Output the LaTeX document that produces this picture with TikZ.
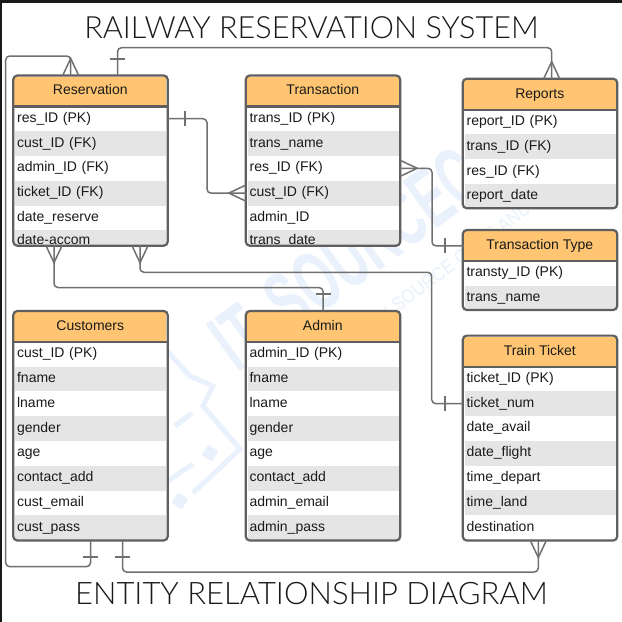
\documentclass[tikz,border=0pt]{standalone}
\usepackage{fontspec}
\setmainfont{Liberation Sans}
\newfontfamily\titlefont[UprightFont=* Light]{Lato}
\usetikzlibrary{positioning,calc}
\definecolor{headcol}{HTML}{FFC572}
\definecolor{stripecol}{HTML}{E5E5E5}
\definecolor{framecol}{HTML}{5F5F5F}
\definecolor{linecol}{HTML}{707070}
\definecolor{markcol}{HTML}{E8F1FC}
\definecolor{textcol}{HTML}{1A1A1A}
\tikzset{
    entityback/.style={rectangle, rounded corners=4pt, fill=white, minimum width=154.4pt, inner sep=0pt, outer sep=0pt, anchor=north west},
    entity/.style={entityback, fill=none, draw=framecol, line width=2.2pt},
    headtext/.style={rectangle, fill=headcol, minimum width=152pt, minimum height=29.8pt, inner sep=0pt, outer sep=0pt, anchor=north west, text=textcol, font=\fontsize{14}{16}\selectfont, text height=10pt, text depth=3pt},
    rowa/.style={rectangle, minimum width=151pt, minimum height=24.8pt, inner xsep=2pt, inner ysep=0pt, outer sep=0pt, anchor=west, text width=147pt, align=left, text=textcol, font=\fontsize{14}{16}\selectfont, text height=10pt, text depth=3pt},
    rowb/.style={rowa, fill=stripecol},
    lastrow/.style={rowb, minimum height=15pt, text height=13pt, text depth=0pt},
    link/.style={draw=linecol, line width=1.5pt, rounded corners=4pt},
    crow/.pic={\draw[draw=linecol, line width=1.5pt] (0,-8) -- (17,0) -- (0,8);},
    onebar/.pic={\draw[draw=linecol, line width=1.5pt] (0,-7.5) -- (0,7.5);},
}
% name, x, y, height, title, rows, cut row
\newcommand{\entity}[7]{
    \node[entityback, minimum height=#4pt] (#1b) at (#2,#3) {};
    \node[headtext] (#1h) at (#2+1,#3+1) {#5};
    \foreach \i/\t in {#6}{
        \ifodd\i
            \node[rowa] (#1\i) at ({#2+1.8},{#3+18.4+24.8*\i}) {\t};
        \else
            \node[rowb] (#1\i) at ({#2+1.8},{#3+18.4+24.8*\i}) {\t};
        \fi
    }
    \def\cutrow{#7}
    \ifx\cutrow\empty\else
        \node[lastrow] (#1c) at ({#2+1.8},{#3+162}) {#7};
    \fi
    \draw[draw=framecol, line width=2.2pt] ($(#1b.north west)+(0,31)$) -- ($(#1b.north east)+(0,31)$);
    \node[entity, minimum height=#4pt] (#1) at (#2,#3) {};
}

\begin{document}
\begin{tikzpicture}[x=1pt, y=-1pt]
    \useasboundingbox (0,0) rectangle (622,622);
    \fill[white] (0,0) rectangle (622,622);
    \fill[black!90] (0,0) rectangle (622,3);
    \fill[black!90] (0,0) rectangle (2,622);

    % watermark
    \node[anchor=base west, rotate=36, text=markcol, font=\fontsize{84}{84}\bfseries\selectfont, inner sep=0pt] (mark) at (237,374) {\scalebox{0.58}[1]{IT\hspace{0.5em}SOURCECODE}};
    \node[anchor=base west, rotate=37, text=markcol, font=\fontsize{19}{19}\selectfont, inner sep=0pt] (marksub) at (359,342) {\scalebox{0.9}[1]{WITH SOURCE CODE AND TU}};
    \begin{scope}[draw=markcol, line width=5pt]
        \draw (167,351) -- (190,376) -- (213,386) -- (203,406) -- (240,449) -- (193,493);
        \draw (192,413) -- (175,426);
        \draw (193,464) -- (168,481);
        \fill[markcol, rotate around={-33:(210,453)}] (204,447) rectangle (216,459);
        \fill[markcol, rotate around={-33:(180,501)}] (174,495) rectangle (186,507);
    \end{scope}

    \node[text=textcol, font=\titlefont\fontsize{30.6}{31}\selectfont, inner sep=0pt] (title) at (311.5,28) {RAILWAY RESERVATION SYSTEM};
    \node[text=textcol, font=\titlefont\fontsize{31}{31}\selectfont, inner sep=0pt] (subtitle) at (311.5,593.5) {ENTITY RELATIONSHIP DIAGRAM};

    \entity{res}{13.3}{75.5}{170.2}{Reservation}{1/res\_ID (PK),2/cust\_ID (FK),3/admin\_ID (FK),4/ticket\_ID (FK),5/date\_reserve}{date-accom}
    \entity{trans}{245.8}{75.5}{170.2}{Transaction}{1/trans\_ID (PK),2/trans\_name,3/res\_ID (FK),4/cust\_ID (FK),5/admin\_ID}{trans\_date}
    \entity{rep}{462.8}{78.7}{129.6}{Reports}{1/report\_ID (PK),2/trans\_ID (FK),3/res\_ID (FK),4/report\_date}{}
    \entity{tty}{462.8}{230}{80}{Transaction Type}{1/transty\_ID (PK),2/trans\_name}{}
    \entity{cus}{13.3}{311}{229.5}{Customers}{1/cust\_ID (PK),2/fname,3/lname,4/gender,5/age,6/contact\_add,7/cust\_email,8/cust\_pass}{}
    \entity{adm}{245.8}{311}{229.5}{Admin}{1/admin\_ID (PK),2/fname,3/lname,4/gender,5/age,6/contact\_add,7/admin\_email,8/admin\_pass}{}
    \entity{tic}{462.8}{335.6}{204.9}{Train Ticket}{1/ticket\_ID (PK),2/ticket\_num,3/date\_avail,4/date\_flight,5/time\_depart,6/time\_land,7/destination}{}

    % connector ends and bends
    \coordinate (resT1) at (70.7,75.5);
    \coordinate (resT2) at (117.5,75.5);
    \coordinate (resB1) at (54,245.7);
    \coordinate (resB2) at (140,245.7);
    \coordinate (repT) at (551.7,78.7);
    \coordinate (cusB2) at (122.5,540.5);
    \coordinate (ticB) at (538.3,540.5);
    \coordinate (bendA) at (5.7,566.7);
    \coordinate (bendB) at (5.7,56);
    \coordinate (bendC) at (300,47.7);
    \coordinate (bendD) at (207,150);
    \coordinate (bendE) at (432,200);
    \coordinate (bendF) at (200,287.5);
    \coordinate (bendG) at (431.7,272.3);
    \coordinate (bendH) at (300,572);

    \begin{scope}
        \draw[link] (cus.south) |- (bendA) -- (bendB) -| (resT1);
        \draw[link] (resT2) |- (bendC) -| (repT);
        \draw[link] (res.east |- res1.center) -| (bendD) |- (trans.west |- trans4.center);
        \draw[link] (trans.east |- trans3.center) -| (bendE) |- (ttyh.west);
        \draw[link] (resB1) |- (bendF) -| (adm.north);
        \draw[link] (resB2) |- (bendG) |- (tic.west |- tic2.center);
        \draw[link] (cusB2) |- (bendH) -| (ticB);
    \end{scope}

    % crow's feet
    \pic[rotate=90] at (resT1) {crow};
    \pic[rotate=90] at (repT) {crow};
    \pic[rotate=180] at (trans.west |- trans4.center) {crow};
    \pic[rotate=0] at (trans.east |- trans3.center) {crow};
    \pic[rotate=-90] at (resB1) {crow};
    \pic[rotate=-90] at (resB2) {crow};
    \pic[rotate=-90] at (ticB) {crow};

    % one bars
    \pic[rotate=90] at (117.5,59) {onebar};
    \pic at (185,118.5) {onebar};
    \pic at (445,245.5) {onebar};
    \pic[rotate=90] at (323,294) {onebar};
    \pic at (445,403.5) {onebar};
    \pic[rotate=90] at (90.5,557) {onebar};
    \pic[rotate=90] at (122.5,557) {onebar};
\end{tikzpicture}
\end{document}
